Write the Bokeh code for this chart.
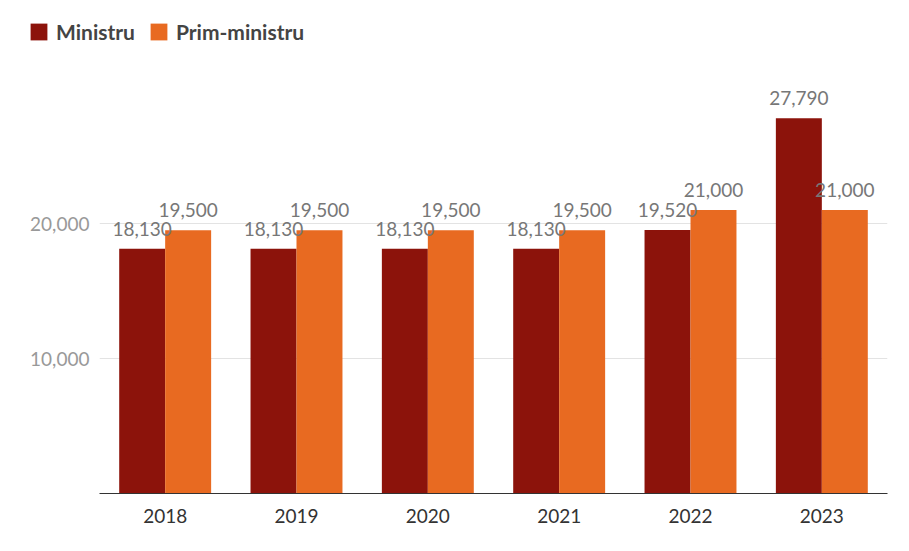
from bokeh.plotting import figure
from bokeh.layouts import column
from bokeh.models import ColumnDataSource, FactorRange, Range1d, FixedTicker, NumeralTickFormatter, Legend, LegendItem
from bokeh.core.properties import value
from bokeh.transform import dodge
from bokeh.embed import file_html
from bokeh.resources import INLINE

years = ["2018", "2019", "2020", "2021", "2022", "2023"]
ministru = [18130, 18130, 18130, 18130, 19520, 27790]
prim_ministru = [19500, 19500, 19500, 19500, 21000, 21000]
series_names = ["Ministru", "Prim-ministru"]
y_ticks = [10000, 20000]

FONT = "Lato"
C_MIN = "#8C130B"
C_PRIM = "#E86A21"

src = ColumnDataSource(dict(
    year=years,
    ministru=ministru,
    prim=prim_ministru,
    ministru_lbl=[f"{v:,}" for v in ministru],
    prim_lbl=[f"{v:,}" for v in prim_ministru],
))

# main bar chart
p = figure(
    width=909, height=490,
    x_range=FactorRange(*years, range_padding=0),
    y_range=Range1d(0, 32000),
    output_backend="svg", toolbar_location=None,
    min_border_left=99, min_border_right=22, min_border_top=0, min_border_bottom=58,
)
p.frame_align = False
p.outline_line_color = None

bw = 0.35
p.vbar(x=dodge("year", -bw / 2, range=p.x_range), top="ministru", width=bw,
       source=src, fill_color=C_MIN, line_color=None)
p.vbar(x=dodge("year", bw / 2, range=p.x_range), top="prim", width=bw,
       source=src, fill_color=C_PRIM, line_color=None)

for col, off in (("ministru", -bw / 2), ("prim", bw / 2)):
    p.text(x=dodge("year", off, range=p.x_range), y=col, text=col + "_lbl", source=src,
           text_align="center", text_baseline="bottom", y_offset=-13,
           text_font_size="19px", text_color="#777777", text_font=value(FONT))

p.xaxis.axis_line_color = "#333333"
p.xaxis.major_tick_line_color = None
p.xaxis.minor_tick_line_color = None
p.xaxis.major_label_text_font_size = "19px"
p.xaxis.major_label_text_color = "#333333"
p.xaxis.major_label_text_font = FONT
p.xaxis.major_label_standoff = 9
p.xgrid.grid_line_color = None

p.yaxis.ticker = FixedTicker(ticks=y_ticks)
p.yaxis.formatter = NumeralTickFormatter(format="0,0")
p.yaxis.axis_line_color = None
p.yaxis.major_tick_line_color = None
p.yaxis.minor_tick_line_color = None
p.yaxis.major_label_text_font_size = "19px"
p.yaxis.major_label_text_color = "#999999"
p.yaxis.major_label_text_font = FONT
p.yaxis.major_label_standoff = 4
p.ygrid.ticker = FixedTicker(ticks=y_ticks)
p.ygrid.grid_line_color = "#e3e3e3"

# legend strip on top; its key renderers sit outside the visible range
lg = figure(
    width=909, height=61, x_range=Range1d(0, 1), y_range=Range1d(0, 1),
    output_backend="svg", toolbar_location=None,
    x_axis_location=None, y_axis_location=None,
    min_border_left=0, min_border_right=0, min_border_top=0, min_border_bottom=0,
)
lg.frame_align = False
lg.outline_line_color = None
lg.grid.grid_line_color = None
key_src = ColumnDataSource(dict(x=[-5], top=[-5]))
k1 = lg.vbar(x="x", top="top", width=0.1, source=key_src, fill_color=C_MIN, line_color=None)
k2 = lg.vbar(x="x", top="top", width=0.1, source=key_src, fill_color=C_PRIM, line_color=None)

legend = Legend(
    items=[LegendItem(label=series_names[0], renderers=[k1]),
           LegendItem(label=series_names[1], renderers=[k2])],
    orientation="horizontal", location=(28, 17),
    glyph_width=21, glyph_height=21, label_height=21, label_standoff=7, spacing=13,
    padding=0, margin=0, border_line_color=None, background_fill_alpha=0,
    label_text_font=FONT, label_text_font_style="bold", label_text_font_size="21px",
    label_text_color="#444444",
)
lg.add_layout(legend, "center")

open("out.html", "w").write(file_html(column(lg, p, spacing=0), INLINE))
